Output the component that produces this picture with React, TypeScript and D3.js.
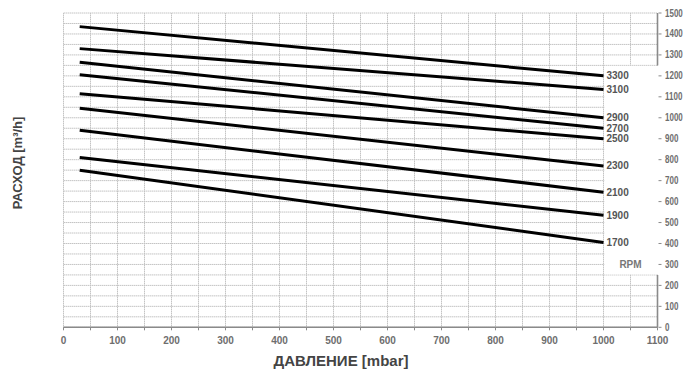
import React from "react";
import * as d3 from "d3";

const rpmLabels = ["3300", "3100", "2900", "2700", "2500", "2300", "2100", "1900", "1700"];
const startPressure = 30;
const endPressure = 1000;
const flowAtStart = [1435, 1330, 1265, 1205, 1115, 1045, 940, 810, 750];
const flowAtEnd = [1200, 1135, 1000, 950, 900, 770, 645, 535, 405];
const xTicks = [0, 100, 200, 300, 400, 500, 600, 700, 800, 900, 1000, 1100];
const yTicks = [0, 100, 200, 300, 400, 500, 600, 700, 800, 900, 1000, 1100, 1200, 1300, 1400, 1500];
const xTitle = "ДАВЛЕНИЕ [mbar]";
const yTitle = "РАСХОД [m³/h]";
const unitLabel = "RPM";

const W = 684;
const H = 378;
const left = 63.5;
const right = 657.5;
const top = 13;
const bottom = 327.3;

export default function App() {
  const x = d3.scaleLinear().domain([0, 1100]).range([left, right]);
  const y = d3.scaleLinear().domain([0, 1500]).range([bottom, top]);
  const vGrid = d3.range(0, 1101, 50);
  const hGrid = d3.range(0, 1501, 50);
  const minorX = d3.range(0, 1101, 50);
  const line = d3
    .line<[number, number]>()
    .x((d) => x(d[0]))
    .y((d) => y(d[1]));
  const font = "'Liberation Sans Narrow', 'Arial Narrow', 'Liberation Sans', sans-serif";
  const gridColor = "#c4c4c4";
  const axisColor = "#8a8a8a";
  const labelColor = "#6e6e6e";

  return (
    <svg width={W} height={H} style={{ position: "absolute", left: 0, top: 0, background: "#fff" }}>
      <g stroke={gridColor} strokeWidth={1} strokeDasharray="1.5 0.5">
        {vGrid.map((v) => (
          <line key={"v" + v} x1={x(v)} x2={x(v)} y1={y(1500)} y2={y(0)} />
        ))}
        {hGrid.map((v) => (
          <line key={"h" + v} x1={x(0)} x2={x(1100)} y1={y(v)} y2={y(v)} />
        ))}
      </g>
      <rect x={x(1000) + 0.8} y={y(1250) + 0.5} width={x(1100) - x(1000) + 1} height={y(250) - y(1250) - 1} fill="#fff" />
      <line x1={x(0)} x2={x(1100)} y1={y(0)} y2={y(0)} stroke={axisColor} strokeWidth={1.6} />
      <line x1={x(1100)} x2={x(1100)} y1={y(1500)} y2={y(1250)} stroke={axisColor} strokeWidth={1.6} />
      <line x1={x(1100)} x2={x(1100)} y1={y(250)} y2={y(0)} stroke={axisColor} strokeWidth={1.6} />
      {minorX.map((v) => (
        <line key={"mx" + v} x1={x(v)} x2={x(v)} y1={y(0)} y2={y(0) + 3} stroke={axisColor} strokeWidth={1} />
      ))}
      {yTicks.map((v) => (
        <line key={"ty" + v} x1={x(1100) + 1} x2={x(1100) + 4} y1={y(v)} y2={y(v)} stroke={axisColor} strokeWidth={1} />
      ))}
      <g fontFamily={font} fontWeight="bold" fontSize={10} fill={labelColor}>
        {xTicks.map((v) => (
          <text key={"xl" + v} x={x(v)} y={y(0) + 17} textAnchor="middle">
            {v}
          </text>
        ))}
        {yTicks.map((v) => (
          <g key={"yl" + v} transform={`translate(${x(1100) + 7.5},${y(v)}) scale(0.8,1)`}>
            <text x={0} y={0} dy="0.35em" textAnchor="start">
              {v}
            </text>
          </g>
        ))}
      </g>
      <g fill="none" stroke="#000" strokeWidth={3}>
        {rpmLabels.map((r, i) => (
          <path
            key={"l" + r}
            d={line([
              [startPressure, flowAtStart[i]],
              [endPressure, flowAtEnd[i]],
            ]) as string}
          />
        ))}
      </g>
      <g fontFamily={font} fontWeight="bold" fontSize={10} fill="#555">
        {rpmLabels.map((r, i) => (
          <text key={"rl" + r} x={x(endPressure) + 3} y={y(flowAtEnd[i])} dy="0.35em">
            {r}
          </text>
        ))}
        <text x={x(1050)} y={y(300)} dy="0.35em" textAnchor="middle" fill="#777">
          {unitLabel}
        </text>
      </g>
      <text
        x={341}
        y={366}
        textAnchor="middle"
        fontFamily={font}
        fontWeight="bold"
        fontSize={15}
        fill="#444"
      >
        {xTitle}
      </text>
      <text
        transform={`translate(22, ${163}) rotate(-90)`}
        textAnchor="middle"
        fontFamily={font}
        fontWeight="bold"
        fontSize={13}
        fill="#444"
      >
        {yTitle}
      </text>
    </svg>
  );
}
